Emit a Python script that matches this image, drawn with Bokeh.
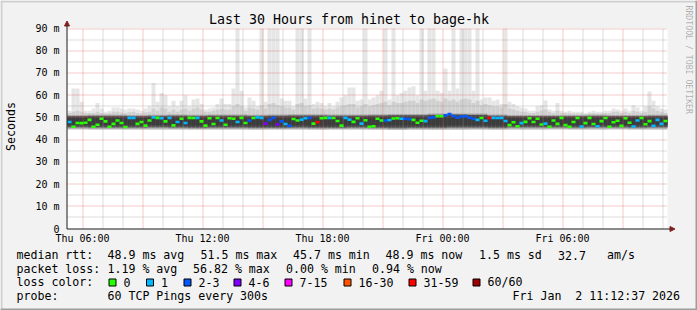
import math
from bokeh.plotting import figure
from bokeh.models import Range1d, Arrow, NormalHead, ColumnDataSource
from bokeh.core.properties import value
from bokeh.embed import file_html
from bokeh.resources import INLINE

# ---------------- data ----------------
title_text = "Last 30 Hours from hinet to bage-hk"
start_hour = 5.25      # Thu 05:15, hours since Thu 00:00
span_hours = 30.0
sample_hours = 0.2     # one column every 12 minutes

median_ms = [
    47.9, 45.8, 47.5, 47.4, 47.6, 48.9, 45.8, 46.7, 49.4, 48.2,
    45.8, 47.1, 48.6, 47.5, 45.7, 49.8, 49.8, 47.1, 47.9, 46.3,
    48.6, 50.0, 49.8, 49.6, 48.2, 49.8, 46.4, 47.9, 49.4, 47.5,
    49.8, 49.7, 49.8, 48.2, 46.3, 49.6, 47.0, 49.7, 48.6, 46.7,
    49.6, 49.4, 47.9, 49.8, 47.5, 48.6, 49.7, 50.0, 49.8, 47.2,
    48.9, 49.8, 46.8, 48.2, 47.0, 46.2, 49.3, 48.6, 49.0, 49.6,
    49.8, 47.2, 47.8, 49.6, 49.8, 49.8, 49.7, 48.4, 46.3, 49.8,
    49.0, 48.0, 49.6, 47.2, 48.7, 45.8, 46.0, 49.4, 48.6, 48.6,
    48.8, 49.5, 49.6, 49.4, 49.4, 49.2, 48.9, 47.6, 48.5, 48.3,
    49.8, 50.0, 50.5, 50.5, 50.9, 51.5, 50.6, 49.9, 50.4, 50.5,
    49.9, 49.4, 48.9, 49.7, 48.5, 49.8, 49.8, 49.7, 49.8, 48.4,
    46.5, 47.8, 46.0, 47.4, 48.0, 49.6, 47.9, 49.4, 46.8, 47.2,
    45.8, 48.6, 47.1, 49.8, 46.5, 45.8, 47.9, 49.7, 45.9, 47.4,
    49.8, 47.0, 46.0, 48.3, 49.7, 45.8, 47.8, 48.5, 46.2, 49.6,
    47.6, 45.9, 48.6, 49.7, 46.9, 48.3, 46.2, 48.9, 47.1, 48.4,
]

# index into loss_labels / loss_colors
loss_code = [
    1, 0, 0, 0, 0, 0, 0, 0, 0, 0,
    0, 0, 0, 0, 0, 1, 1, 0, 0, 0,
    0, 1, 0, 1, 0, 1, 0, 1, 0, 1,
    0, 0, 1, 0, 0, 0, 0, 0, 1, 0,
    0, 0, 1, 0, 0, 2, 0, 1, 1, 3,
    2, 2, 3, 2, 1, 2, 0, 0, 1, 1,
    2, 0, 6, 0, 0, 1, 0, 0, 0, 1,
    1, 0, 0, 1, 0, 0, 0, 0, 0, 2,
    1, 0, 0, 1, 2, 2, 0, 0, 0, 1,
    2, 2, 0, 0, 2, 2, 2, 2, 2, 2,
    2, 2, 1, 0, 1, 6, 1, 1, 1, 1,
    0, 0, 0, 1, 0, 0, 0, 0, 0, 1,
    0, 0, 0, 0, 0, 0, 0, 0, 1, 0,
    0, 0, 1, 0, 0, 0, 0, 0, 0, 0,
    0, 1, 1, 0, 0, 0, 1, 1, 1, 0,
]

smoke_max_ms = [
    53.0, 63.0, 63.0, 57.0, 53.0, 53.0, 54.0, 56.5, 54.0, 52.5,
    53.0, 54.5, 54.5, 54.0, 53.5, 54.0, 54.0, 53.5, 53.0, 54.0,
    55.0, 65.5, 57.0, 61.0, 60.0, 55.0, 57.5, 55.0, 57.5, 60.0,
    55.0, 58.0, 58.5, 56.0, 53.5, 54.0, 54.5, 56.0, 58.5, 56.0,
    56.0, 63.0, 90.0, 62.0, 54.5, 59.0, 57.5, 55.0, 90.0, 57.0,
    90.0, 90.0, 90.0, 58.5, 57.5, 57.5, 55.0, 90.0, 90.0, 58.5,
    90.0, 56.0, 57.0, 56.5, 55.0, 56.5, 55.0, 57.0, 59.0, 60.0,
    63.5, 63.5, 57.5, 58.0, 90.0, 58.0, 59.0, 60.0, 62.0, 90.0,
    58.0, 90.0, 60.0, 61.0, 62.0, 63.5, 64.0, 60.0, 90.0, 62.0,
    90.0, 90.0, 62.0, 61.0, 72.0, 62.0, 90.0, 63.0, 90.0, 90.0,
    90.0, 62.0, 90.0, 58.0, 59.0, 59.0, 57.5, 58.0, 56.0, 90.0,
    57.0, 56.0, 55.0, 54.5, 54.0, 53.0, 53.0, 55.0, 55.5, 57.6,
    53.5, 53.0, 56.5, 53.0, 52.5, 53.0, 52.5, 52.5, 52.5, 52.0,
    52.5, 53.0, 52.5, 52.5, 53.0, 53.0, 54.0, 53.5, 53.0, 54.0,
    53.0, 55.5, 54.5, 53.0, 55.0, 61.7, 57.5, 55.0, 54.0, 53.5,
]

smoke_upper_ms = [
    52.0, 52.5, 53.0, 52.5, 52.0, 52.0, 52.0, 52.5, 52.0, 51.8,
    52.0, 52.5, 52.5, 52.2, 52.0, 52.3, 52.5, 52.0, 51.8, 52.2,
    52.5, 54.0, 53.0, 54.5, 54.0, 52.5, 53.5, 52.5, 53.5, 54.0,
    53.0, 54.0, 54.5, 53.5, 52.5, 52.5, 53.0, 53.5, 54.0, 53.5,
    53.5, 55.0, 56.0, 55.0, 53.0, 54.5, 54.0, 53.5, 55.5, 54.0,
    56.0, 56.5, 55.5, 55.0, 54.5, 54.5, 53.5, 56.0, 56.5, 55.0,
    55.5, 54.0, 54.5, 54.0, 53.5, 54.0, 53.5, 54.5, 55.0, 55.5,
    56.0, 56.0, 54.5, 55.0, 56.0, 55.0, 55.5, 56.0, 56.5, 57.0,
    55.5, 57.0, 56.5, 56.5, 57.0, 57.5, 57.5, 56.5, 58.0, 57.5,
    58.0, 58.5, 57.5, 57.0, 58.5, 57.5, 58.0, 57.0, 58.0, 58.5,
    58.0, 56.5, 57.5, 55.5, 56.0, 55.5, 55.0, 55.0, 54.5, 56.0,
    54.0, 53.5, 53.0, 52.5, 52.5, 52.0, 52.0, 52.5, 53.0, 53.5,
    52.5, 52.0, 53.0, 52.0, 52.0, 52.0, 51.8, 51.8, 51.8, 51.5,
    51.8, 52.0, 51.8, 51.8, 52.0, 52.0, 52.5, 52.5, 52.0, 52.5,
    52.0, 53.0, 52.5, 52.0, 52.5, 55.0, 54.0, 53.0, 52.5, 52.0,
]

# hourly smoke body (30 hours)
hour_smoke_min = [44.7, 44.6, 44.6, 44.5, 44.6, 44.6, 44.5, 44.6, 44.6, 44.4,
                  44.5, 44.5, 44.4, 44.5, 44.5, 44.4, 44.3, 44.4, 44.3, 44.4,
                  44.5, 44.4, 44.6, 44.6, 44.7, 44.6, 44.6, 44.7, 44.6, 44.6]
hour_core_lo = [45.4, 45.3, 45.3, 45.3, 45.4, 45.3, 45.2, 45.3, 45.3, 45.2,
                45.2, 45.3, 45.2, 45.2, 45.3, 45.2, 45.1, 45.2, 45.2, 45.3,
                45.3, 45.2, 45.4, 45.4, 45.4, 45.3, 45.4, 45.4, 45.3, 45.4]
hour_core_hi = [50.6, 50.7, 50.7, 50.6, 50.7, 50.8, 50.7, 50.8, 50.8, 50.7,
                50.8, 50.9, 50.9, 50.8, 50.8, 50.9, 51.0, 51.0, 51.2, 51.3,
                51.2, 50.8, 50.6, 50.6, 50.6, 50.6, 50.7, 50.6, 50.6, 50.7]

loss_labels = ["0", "1", "2-3", "4-6", "7-15", "16-30", "31-59", "60/60"]
loss_colors = ["#26ff00", "#00b8ff", "#0059ff", "#7e00ff",
               "#ff00ff", "#ff5500", "#ff0000", "#a00000"]

x_tick_hours = [6, 12, 18, 24, 30]
x_tick_labels = ["Thu 06:00", "Thu 12:00", "Thu 18:00", "Fri 00:00", "Fri 06:00"]
x_major_grid_hours = [6, 9, 12, 15, 18, 21, 24, 27, 30, 33]
x_minor_grid_hours = [7, 8, 10, 11, 13, 14, 16, 17, 19, 20, 22, 23,
                      25, 26, 28, 29, 31, 32, 34, 35]
y_ticks = [0, 10, 20, 30, 40, 50, 60, 70, 80, 90]
y_tick_labels = ["0", "10 m", "20 m", "30 m", "40 m", "50 m", "60 m", "70 m", "80 m", "90 m"]
y_major_grid = [10, 20, 30, 40, 50, 60, 70, 80, 90]
y_minor_grid = [5, 15, 25, 35, 45, 55, 65, 75, 85]
y_axis_title = "Seconds"

legend_rtt_items = ["median rtt:", "48.9 ms avg", "51.5 ms max", "45.7 ms min",
                    "48.9 ms now", "1.5 ms sd", "32.7", "am/s"]
legend_loss_items = ["packet loss:", "1.19 % avg", "56.82 % max", "0.00 % min", "0.94 % now"]
legend_color_head = "loss color:"
legend_probe_items = ["probe:", "60 TCP Pings every 300s"]
legend_stamp = "Fri Jan\u00a0 2 11:12:37 2026"
watermark = "RRDTOOL / TOBI OETIKER"

# ---------------- layout ----------------
W, H = 697, 310
L, T, PW, PH = 67, 28, 600, 200          # plot area in canvas pixels
X0, X1 = start_hour, start_hour + span_hours
Y0, Y1 = 0.0, 90.0
FONT = value("DejaVu Sans Mono")


def hx(px):
    return X0 + (px - L) * (X1 - X0) / PW


def vy(py):
    return Y0 + (T + PH - py) * (Y1 - Y0) / PH


def px_of(x):
    return L + (x - X0) * PW / (X1 - X0)


def py_of(y):
    return T + PH - (y - Y0) * PH / (Y1 - Y0)


def crisp_x(x):
    return hx(math.floor(px_of(x)) + 0.5)


def crisp_y(y):
    return vy(math.floor(py_of(y)) + 0.5)


p = figure(width=W, height=H, x_range=Range1d(hx(0), hx(W)), y_range=Range1d(vy(H), vy(0)),
           output_backend="svg", toolbar_location=None,
           x_axis_location=None, y_axis_location=None,
           min_border=0, min_border_left=0, min_border_right=0,
           min_border_top=0, min_border_bottom=0,
           background_fill_color="#f2f2f2", border_fill_color="#f2f2f2")
p.outline_line_color = None
p.grid.visible = False

# plot canvas
p.quad(left=[X0], right=[X1], bottom=[Y0], top=[Y1], fill_color="#ffffff", line_color=None)

# ---------------- smoke ----------------
n = len(median_ms)
t_left = [X0 + i * sample_hours for i in range(n)]
t_right = [X0 + (i + 1) * sample_hours for i in range(n)]
hidx = [int(i * sample_hours) for i in range(n)]
smin = [hour_smoke_min[h] for h in hidx]
clo = [hour_core_lo[h] for h in hidx]
chi = [hour_core_hi[h] for h in hidx]

src = ColumnDataSource(dict(
    left=t_left, right=t_right, smin=smin, smax=smoke_max_ms, upper=smoke_upper_ms,
    clo=clo, chi=chi,
    glo=[a - 0.4 for a in clo], ghi=[b + 0.5 for b in chi],
    dlo=[a + 0.5 for a in clo], dhi=[b - 0.15 for b in chi],
    elo=[a + 1.2 for a in clo], ehi=[b - 0.8 for b in chi],
))
for lo, hi, col in [("smin", "smax", "#e6e6e6"), ("smin", "upper", "#d0d0d0"),
                    ("glo", "ghi", "#a8a8a8"), ("clo", "chi", "#6b6b6b"),
                    ("dlo", "dhi", "#4a4a4a"), ("elo", "ehi", "#3c3c3c")]:
    p.quad(left="left", right="right", bottom=lo, top=hi, source=src,
           fill_color=col, line_color=None)

# ---------------- grid (dotted, on pixel centres) ----------------
for ticks, color in [(x_minor_grid_hours, "#8f8f8f"), (x_major_grid_hours, "#de5050")]:
    xs = [crisp_x(h) for h in ticks]
    p.segment(x0=xs, y0=[Y0] * len(xs), x1=xs, y1=[Y1] * len(xs),
              line_color=color, line_alpha=0.6, line_width=1, line_dash="1 1")
for ticks, color in [(y_minor_grid, "#8f8f8f"), (y_major_grid, "#de5050")]:
    ys = [crisp_y(v) for v in ticks]
    p.segment(x0=[X0] * len(ys), y0=ys, x1=[X1] * len(ys), y1=ys,
              line_color=color, line_alpha=0.6, line_width=1, line_dash="1 1")

# median, coloured by loss
msrc = ColumnDataSource(dict(x0=t_left, x1=t_right, y=median_ms,
                             c=[loss_colors[k] for k in loss_code]))
p.segment(x0="x0", y0="y", x1="x1", y1="y", source=msrc, line_color="c",
          line_width=2.6, line_cap="butt")

# axis lines with arrows
ARROW = "#801f1f"
ax_x = crisp_x(X0) - (X1 - X0) / PW
ax_y = crisp_y(Y0)
p.add_layout(Arrow(end=NormalHead(size=5, fill_color=ARROW, line_color=ARROW),
                   x_start=ax_x, y_start=ax_y, x_end=ax_x, y_end=vy(20.5),
                   line_color="#1f1f1f", line_width=1))
p.add_layout(Arrow(end=NormalHead(size=5, fill_color=ARROW, line_color=ARROW),
                   x_start=ax_x, y_start=ax_y, x_end=hx(674.5), y_end=ax_y,
                   line_color="#1f1f1f", line_width=1))

# tick labels
p.text(x=[hx(59)] * len(y_ticks), y=y_ticks, text=y_tick_labels, text_font=FONT,
       text_font_size=value("10px"), text_align="right", text_baseline="middle",
       text_color="#000000")
p.text(x=x_tick_hours, y=[vy(238)] * len(x_tick_hours), text=x_tick_labels, text_font=FONT,
       text_font_size=value("10px"), text_align="center", text_baseline="middle",
       text_color="#000000")
p.text(x=[hx(10.5)], y=[vy(126)], text=[y_axis_title], angle=math.pi / 2, text_font=FONT,
       text_font_size=value("11.6px"), text_align="center", text_baseline="middle",
       text_color="#000000")

# title & watermark
p.text(x=[hx(348.5)], y=[vy(18.5)], text=[title_text], text_align="center",
       text_baseline="middle", text_font=FONT, text_font_size=value("13.3px"),
       text_color="#000000")
p.text(x=[hx(688)], y=[vy(5)], text=[watermark], angle=-math.pi / 2,
       text_align="left", text_baseline="middle", text_font=FONT,
       text_font_size=value("8.2px"), text_color="#000000", text_alpha=0.3)

# legend (rrdtool justifies the items across the line)
rtt_px = [16, 107, 200, 292.5, 385, 478.5, 557.5, 606.5]
loss_px = [16, 107, 192.5, 285.5, 371.5]
probe_px = [16, 107]
box_x = [108, 145.5, 183, 233, 284, 343, 408, 472]
leg_x = rtt_px + loss_px + [16] + probe_px + [512] + [v + 15 for v in box_x]
leg_y = ([254.5] * len(rtt_px) + [268] * len(loss_px) + [281.5] + [295.5] * 3
         + [281.5] * len(box_x))
leg_t = (legend_rtt_items + legend_loss_items + [legend_color_head] + legend_probe_items
         + [legend_stamp] + loss_labels)
p.text(x=[hx(v) for v in leg_x], y=[vy(v) for v in leg_y], text=leg_t,
       text_align="left", text_baseline="middle",
       text_font=FONT, text_font_size=value("11.6px"), text_color="#000000")
p.quad(left=[hx(v + 0.5) for v in box_x], right=[hx(v + 7.5) for v in box_x],
       top=[vy(278.5)] * len(box_x), bottom=[vy(285.5)] * len(box_x),
       fill_color=loss_colors, line_color="#000000", line_width=1)

# outer 3-D frame
p.quad(left=[hx(0), hx(0), hx(0), hx(W - 2)], right=[hx(W), hx(2), hx(W), hx(W)],
       top=[vy(0), vy(0), vy(H - 2), vy(0)], bottom=[vy(2), vy(H), vy(H), vy(H)],
       fill_color=["#cfcfcf", "#cfcfcf", "#9e9e9e", "#9e9e9e"], line_color=None)

open("out.html", "w").write(file_html(p, INLINE))
